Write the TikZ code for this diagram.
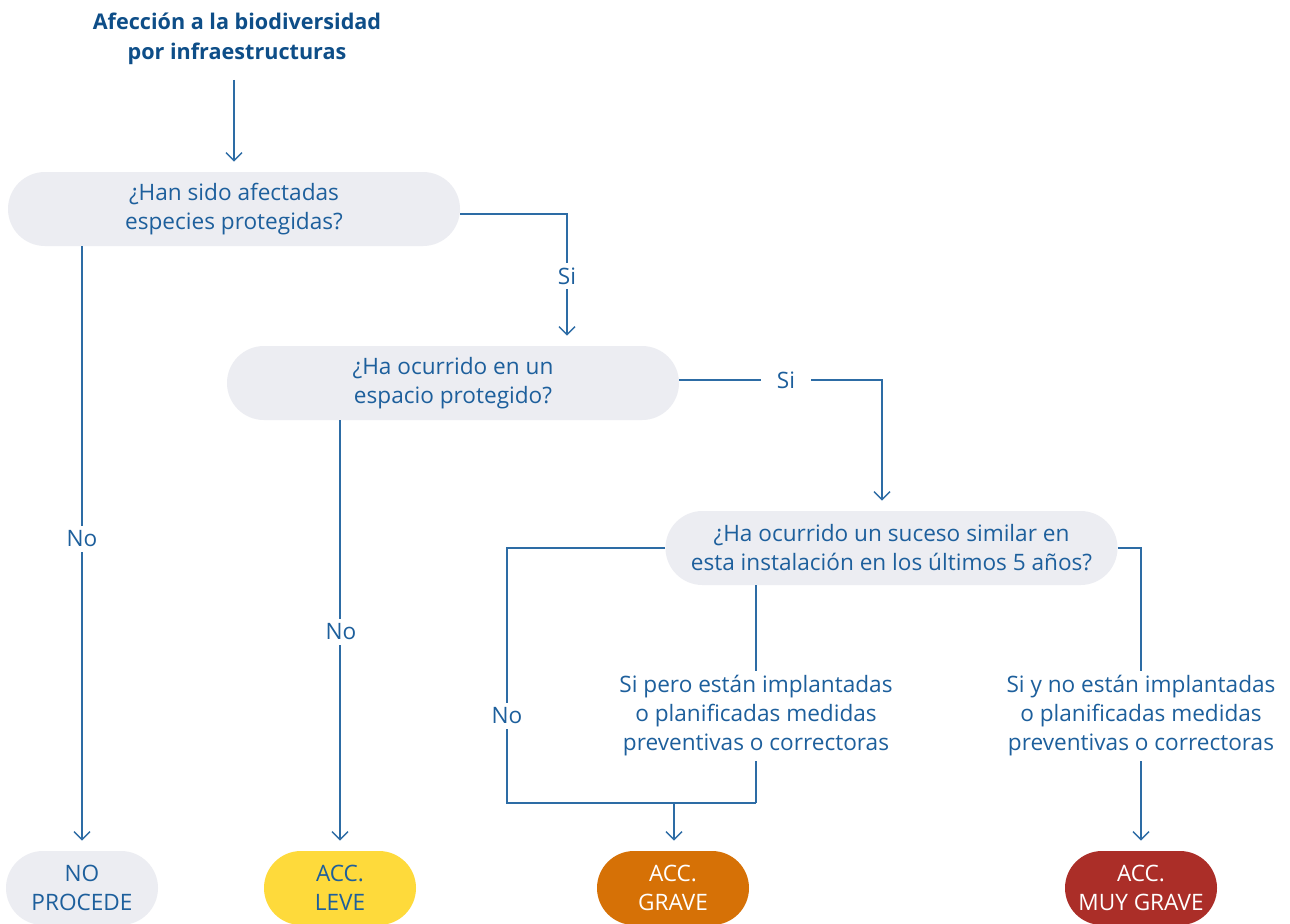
\documentclass[tikz,border=0pt]{standalone}
\usepackage{fontspec}
\setmainfont{Open Sans}
\usetikzlibrary{arrows.meta,calc}
\definecolor{tblue}{HTML}{1D5F9C}
\definecolor{lblue}{HTML}{2D6CA5}
\definecolor{ttl}{HTML}{0E4E88}
\definecolor{gfill}{HTML}{ECEDF2}
\definecolor{accyel}{HTML}{FEDA3B}
\definecolor{accora}{HTML}{D67106}
\definecolor{accred}{HTML}{AB2E28}
\begin{document}
\begin{tikzpicture}[x=0.5pt,y=-0.5pt,
  font=\fontsize{11.3}{14.5}\selectfont,
  q/.style={fill=gfill, rounded corners=18.5pt, minimum width=226pt, minimum height=37pt, align=center, text=tblue, inner sep=0pt},
  res/.style={rounded corners=18.5pt, minimum width=76pt, minimum height=37pt, inner sep=0pt, align=center},
  conn/.style={draw=lblue, line width=0.7pt},
  arr/.style={conn, -{Straight Barb[length=4pt,width=8pt]}, shorten >=5pt},
  lbl/.style={fill=white, text=tblue, align=center, inner sep=2.5pt}]
\useasboundingbox (0,0) rectangle (1290,923);
\fill[white] (0,0) rectangle (1290,923);
\clip (0,0) rectangle (1290,923);

\node[text=ttl, font=\bfseries\fontsize{10.8}{15}\selectfont, align=center] (title) at (237,39) {Afección a la biodiversidad\\por infraestructuras};

\node[q] (n1) at (234,209) {¿Han sido afectadas\\especies protegidas?};
\node[q] (n2) at (453,383) {¿Ha ocurrido en un\\espacio protegido?};
\node[q] (n3) at (891.5,548) {¿Ha ocurrido un suceso similar en\\esta instalación en los últimos 5 años?};

\node[res, fill=gfill, text=tblue] (np) at (82,888) {NO\\PROCEDE};
\node[res, fill=accyel, text=tblue] (lv) at (340,888) {ACC.\\LEVE};
\node[res, fill=accora, text=white] (gr) at (673,888) {ACC.\\GRAVE};
\node[res, fill=accred, text=white] (mg) at (1141,888) {ACC.\\MUY GRAVE};

\coordinate (c1) at (567,214);
\coordinate (c2) at (882,380);
\coordinate (c3) at (507,548);
\coordinate (c4) at (507,803);
\coordinate (c5) at (756,803);
\coordinate (c6) at (1141,548);
\coordinate (c7) at (674,803);

% connectors
\draw[arr] (title.south -| n1) ++(0,8) -- (n1.north);
\draw[arr] ([yshift=-2.5pt]n1.east) -- (c1) -- (c1 |- n2.north);
\draw[arr] (n1.south -| np) -- (np.north);
\draw[arr] ([yshift=1.5pt]n2.east) -- (c2) -- (c2 |- n3.north);
\draw[arr] (n2.south -| lv) -- (lv.north);
\draw[conn] (n3.west) -- (c3) -- (c4) -- (c5);
\draw[conn] (n3.south -| c5) -- (c5);
\draw[arr] (c7) -- (c7 |- gr.north);
\draw[arr] (n3.east) -- (c6) -- (mg.north);

% labels
\node[lbl] (l1) at (567,276) {Si};
\node[lbl] (l2) at (82,539) {No};
\node[lbl, inner xsep=8pt] (l3) at (786,380) {Si};
\node[lbl] (l4) at (341,632) {No};
\node[lbl] (l5) at (507,716) {No};
\node[lbl] (l6) at (756,716) {Si pero están implantadas\\o planificadas medidas\\preventivas o correctoras};
\node[lbl] (l7) at (1141,716) {Si y no están implantadas\\o planificadas medidas\\preventivas o correctoras};
\end{tikzpicture}
\end{document}
